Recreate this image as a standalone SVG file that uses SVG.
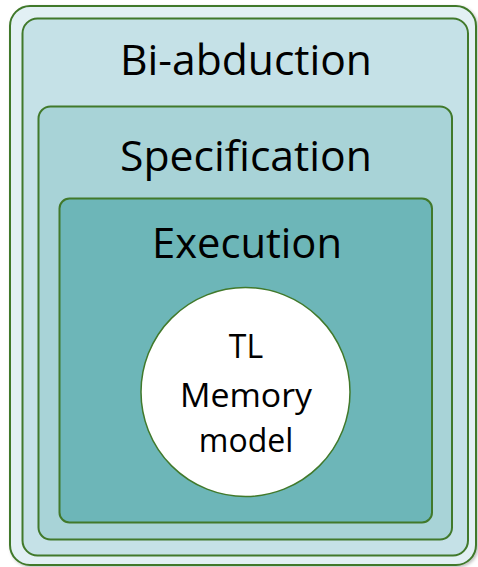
<svg xmlns="http://www.w3.org/2000/svg" width="478" height="567" viewBox="0 0 478 567">
  <defs>
    <filter id="shadow" x="-5%" y="-5%" width="110%" height="110%">
      <feDropShadow dx="1.5" dy="1.5" stdDeviation="1.5" flood-color="#000" flood-opacity="0.25"/>
    </filter>
  </defs>
  <style>
    .box { stroke: #41792b; stroke-width: 2; }
    .label { font-family: "Open Sans", "Liberation Sans", sans-serif; fill: #000; text-anchor: middle; }
    .big { font-size: 42px; }
    .small { font-size: 32px; }
  </style>
  <rect width="478" height="567" fill="#ffffff"/>

  <g id="frame">
    <rect class="box" x="10" y="6" width="466" height="559" rx="20" fill="#e2f0f4" filter="url(#shadow)"/>
  </g>

  <g id="bi-abduction">
    <rect class="box" x="22.5" y="18.5" width="445.5" height="537" rx="15" fill="#c5e1e7"/>
    <text class="label big" x="246" y="75" textLength="252" lengthAdjust="spacingAndGlyphs">Bi-abduction</text>
  </g>

  <g id="specification">
    <rect class="box" x="38.5" y="106.5" width="413.5" height="433" rx="12" fill="#a8d3d7"/>
    <text class="label big" x="246" y="171" textLength="252" lengthAdjust="spacingAndGlyphs">Specification</text>
  </g>

  <g id="execution">
    <rect class="box" x="59.5" y="198.5" width="372.5" height="324" rx="10" fill="#6db6b8"/>
    <text class="label big" x="247" y="258" textLength="190" lengthAdjust="spacingAndGlyphs">Execution</text>
  </g>

  <g id="memory-model">
    <circle cx="245.5" cy="392" r="104.5" fill="#ffffff" stroke="#41792b" stroke-width="1.5"/>
    <text class="label small" x="246" y="358">TL</text>
    <text class="label small" x="246" y="407" textLength="132" lengthAdjust="spacingAndGlyphs">Memory</text>
    <text class="label small" x="246" y="452">model</text>
  </g>

  <g id="connectors"/>
</svg>
